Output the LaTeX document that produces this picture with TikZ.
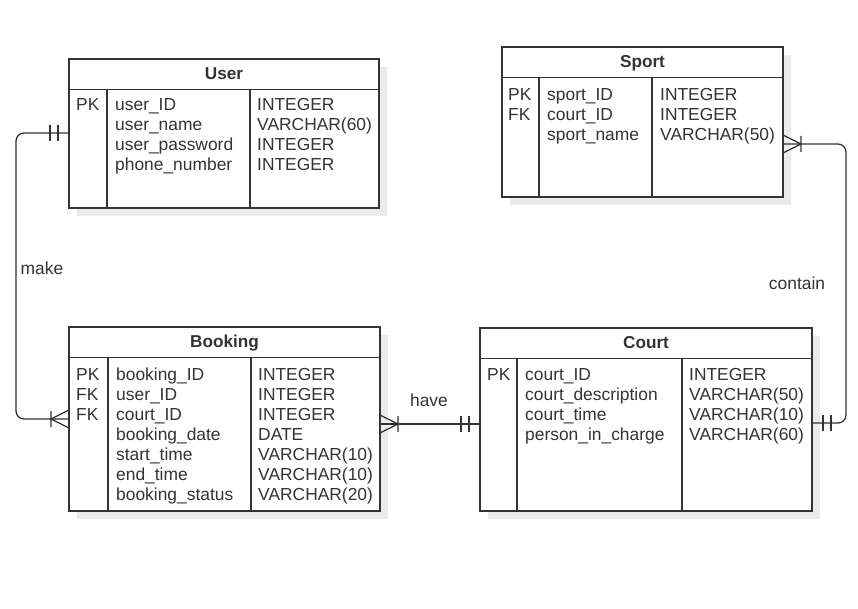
\documentclass[tikz,border=0pt]{standalone}
\usepackage{fontspec}
\setmainfont{Liberation Sans}
\usetikzlibrary{calc}
\definecolor{ln}{HTML}{333333}
\definecolor{shd}{HTML}{EBEBEB}
\tikzset{
  tblbox/.style={draw=ln, line width=1.4pt, fill=white, inner sep=0pt, outer sep=0pt},
  tblline/.style={draw=ln, line width=1.4pt},
  ttl/.style={anchor=base, inner sep=0pt, text=ln, font=\bfseries\fontsize{17.2}{20}\selectfont},
  cell/.style={anchor=base west, inner sep=0pt, text=ln, font=\fontsize{17.4}{20}\selectfont},
  lbl/.style={inner sep=0pt, text=ln, font=\fontsize{17.4}{20}\selectfont},
  conn/.style={draw=ln, line width=1.3pt},
}
% name, left, top, right, bottom, pk divider, type divider, title
\newcommand\ertable[8]{%
  \fill[shd] (#2+8,#3+8) rectangle (#4+8,#5+8);
  \node[tblbox, minimum width={#4-#2}, minimum height={#5-#3}] (#1) at ({(#2+#4)/2},{(#3+#5)/2}) {};
  \draw[tblline] (#2,#3+30.5) -- (#4,#3+30.5) (#6,#3+30.5) -- (#6,#5) (#7,#3+30.5) -- (#7,#5);
  \node[ttl] (#1-title) at ({(#2+#4)/2},#3+20.5) {#8};
}
% node prefix, x, first baseline, list
\newcommand\errows[4]{%
  \foreach \t [count=\i] in {#4} \node[cell] (#1\i) at (#2,{#3+(\i-1)*20}) {\t};
}
\newcommand\mone[2]{\draw[conn, shift={(#1)}, xscale=#2] (-11,-8) -- (-11,8) (-19,-8) -- (-19,8);}
\newcommand\crow[2]{\draw[conn, shift={(#1)}, xscale=#2] (0,-9) -- (-18,0) -- (0,9) (-18,-8) -- (-18,8);}
\begin{document}
\begin{tikzpicture}[x=1pt,y=-1pt]
\useasboundingbox (0,0) rectangle (858,609);
\fill[white] (0,0) rectangle (858,609);

% User
\ertable{user}{69}{59}{379}{208}{107}{250}{User}
\errows{user-k}{76}{111}{PK}
\errows{user-n}{115}{111}{user\_ID,user\_name,user\_password,phone\_number}
\errows{user-t}{257}{111}{INTEGER,{VARCHAR(60)},INTEGER,INTEGER}

% Booking
\ertable{booking}{69}{327}{380}{511}{108}{251}{Booking}
\errows{booking-k}{76}{380}{PK,FK,FK}
\errows{booking-n}{116}{380}{booking\_ID,user\_ID,court\_ID,booking\_date,start\_time,end\_time,booking\_status}
\errows{booking-t}{258}{380}{INTEGER,INTEGER,INTEGER,DATE,{VARCHAR(10)},{VARCHAR(10)},{VARCHAR(20)}}

% Court
\ertable{court}{480}{328}{812}{511}{517}{682}{Court}
\errows{court-k}{487}{380}{PK}
\errows{court-n}{525}{380}{court\_ID,court\_description,court\_time,person\_in\_charge}
\errows{court-t}{689}{380}{INTEGER,{VARCHAR(50)},{VARCHAR(10)},{VARCHAR(60)}}

% Sport
\ertable{sport}{502}{47}{783}{197}{539}{652}{Sport}
\errows{sport-k}{508}{100.5}{PK,FK}
\errows{sport-n}{547}{100.5}{sport\_ID,court\_ID,sport\_name}
\errows{sport-t}{660}{100.5}{INTEGER,INTEGER,{VARCHAR(50)}}

% connector end points
\coordinate (uL) at (user.west |- 0,133);
\coordinate (bL) at (booking.west |- 0,419);
\coordinate (bR) at (booking.east |- 0,424);
\coordinate (cL) at (court.west |- 0,424);
\coordinate (cR) at (court.east |- 0,423);
\coordinate (sR) at (sport.east |- 0,144);

% make
\draw[conn, rounded corners=8pt] (uL) -- ++(-53,0) |- (bL);
\mone{uL}{1}
\crow{bL}{1}
\node[lbl] (make) at (42,268) {make};

% have
\draw[conn] (bR) -- (cL);
\crow{bR}{-1}
\mone{cL}{1}
\node[lbl] (have) at (429,400) {have};

% contain
\draw[conn, rounded corners=8pt] (cR) -- ++(34,0) |- (sR);
\mone{cR}{-1}
\crow{sR}{-1}
\node[lbl] (contain) at (797,283) {contain};
\end{tikzpicture}
\end{document}
